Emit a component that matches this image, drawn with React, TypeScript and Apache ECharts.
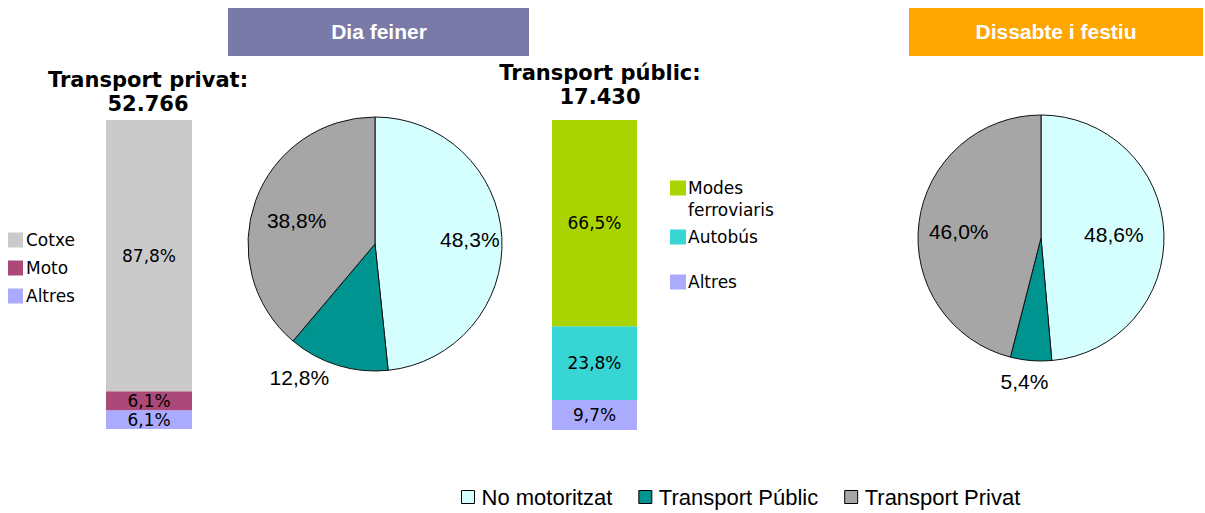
import React, { useEffect, useRef } from "react";
import * as echarts from "echarts";

const privatCategories = ["Cotxe", "Moto", "Altres"];
const privatValues = [87.8, 6.1, 6.1];
const privatColors = ["#cacaca", "#ab4a78", "#aaaaff"];
const privatTotal = "52.766";

const publicCategories = ["Modes ferroviaris", "Autobús", "Altres "];
const publicValues = [66.5, 23.8, 9.7];
const publicColors = ["#aad400", "#38d5d5", "#aaaaff"];
const publicTotal = "17.430";

const pieCategories = ["No motoritzat", "Transport Públic", "Transport Privat"];
const pieColors = ["#d5ffff", "#009490", "#a6a6a6"];
const feinerValues = [48.3, 12.8, 38.8];
const festiuValues = [48.6, 5.4, 46.0];

const fmt = (v: number) => v.toFixed(1).replace(".", ",") + "%";

const barFont = "DejaVu Sans";
const pieFont = "Liberation Sans";

function stackSeries(names: string[], values: number[], colors: string[], idx: number, stack: string) {
  const order = [2, 1, 0];
  return order.map((i) => ({
    type: "bar",
    name: names[i],
    stack,
    xAxisIndex: idx,
    yAxisIndex: idx,
    barWidth: "100%",
    data: [values[i]],
    itemStyle: { color: colors[i] },
    label: {
      show: true,
      position: "inside",
      formatter: (p: any) => fmt(p.value),
      fontFamily: barFont,
      fontSize: 17,
      color: "#000",
    },
  }));
}

function pieSeries(values: number[], center: number[], r: number, innerFrac: number, smallLen: number, shifts: number[][]) {
  const main = {
    type: "pie",
    center,
    radius: [0, r],
    startAngle: 90,
    clockwise: true,
    avoidLabelOverlap: false,
    label: { show: false },
    labelLine: { show: false },
    itemStyle: { borderColor: "#111", borderWidth: 1 },
    data: pieCategories.map((n, i) => ({ name: n, value: values[i], itemStyle: { color: pieColors[i] } })),
  };
  const labels = {
    type: "pie",
    center,
    radius: [r * innerFrac, r],
    startAngle: 90,
    clockwise: true,
    silent: true,
    avoidLabelOverlap: false,
    itemStyle: { color: "rgba(0,0,0,0)", borderWidth: 0 },
    label: {
      show: true,
      position: "inside",
      formatter: (p: any) => fmt(p.value),
      fontFamily: pieFont,
      fontSize: 21,
      color: "#000",
    },
    labelLine: { show: false },
    labelLayout: (p: any) => ({ dx: shifts[p.dataIndex][0], dy: shifts[p.dataIndex][1] }),
    data: pieCategories.map((n, i) => ({
      name: n,
      value: values[i],
      label: i === 1 ? { position: "outside" } : undefined,
      labelLine: i === 1 ? { show: false, length: smallLen, length2: 0 } : undefined,
    })),
  };
  return [main, labels];
}

export default function App() {
  const ref = useRef<HTMLDivElement>(null);
  useEffect(() => {
    if (!ref.current) return;
    const chart = echarts.init(ref.current, undefined, { renderer: "svg" });
    const legendFormatter = (name: string) =>
      name === "Modes ferroviaris" ? "\nModes\nferroviaris" : name.trim();
    const barLegendText = { fontFamily: barFont, fontSize: 17, color: "#000", lineHeight: 22, padding: [0, 0, 0, -3] };
    chart.setOption({
      animation: false,
      backgroundColor: "#fff",
      grid: [
        { left: 106, top: 120, width: 86, height: 309 },
        { left: 552, top: 120, width: 85, height: 310 },
      ],
      xAxis: [
        { type: "category", gridIndex: 0, data: ["privat"], show: false },
        { type: "category", gridIndex: 1, data: ["public"], show: false },
      ],
      yAxis: [
        { type: "value", gridIndex: 0, min: 0, max: 100, show: false },
        { type: "value", gridIndex: 1, min: 0, max: 100, show: false },
      ],
      legend: [
        {
          data: privatCategories,
          orient: "vertical",
          left: 8,
          top: 230,
          padding: 0,
          icon: "rect",
          itemWidth: 15,
          itemHeight: 15,
          itemGap: 8,
          textStyle: { fontFamily: barFont, fontSize: 17, color: "#000", lineHeight: 20, padding: [0, 0, 0, -2] },
        },
        {
          data: [publicCategories[0]],
          left: 670,
          top: 155,
          padding: 0,
          icon: "rect",
          itemWidth: 16,
          itemHeight: 15,
          formatter: legendFormatter,
          textStyle: barLegendText,
        },
        {
          data: [publicCategories[1]],
          left: 670,
          top: 226,
          padding: 0,
          icon: "rect",
          itemWidth: 16,
          itemHeight: 15,
          formatter: legendFormatter,
          textStyle: barLegendText,
        },
        {
          data: [publicCategories[2]],
          left: 670,
          top: 271,
          padding: 0,
          icon: "rect",
          itemWidth: 16,
          itemHeight: 15,
          formatter: legendFormatter,
          textStyle: barLegendText,
        },
        {
          data: pieCategories,
          left: 461,
          top: 486,
          padding: 0,
          icon: "rect",
          itemWidth: 13,
          itemHeight: 13,
          itemGap: 26,
          itemStyle: { borderColor: "#000", borderWidth: 1 },
          textStyle: { fontFamily: pieFont, fontSize: 22, color: "#000", padding: [0, 0, 0, 2] },
        },
      ],
      graphic: [
        { type: "rect", shape: { x: 228, y: 8, width: 301, height: 48 }, style: { fill: "#7a7aa8" } },
        {
          type: "text",
          x: 379,
          y: 31,
          style: { text: "Dia feiner", fill: "#fff", fontFamily: pieFont, fontWeight: "bold", fontSize: 21, align: "center", verticalAlign: "middle" },
        },
        { type: "rect", shape: { x: 909, y: 8, width: 294, height: 48 }, style: { fill: "#ffa600" } },
        {
          type: "text",
          x: 1056,
          y: 31,
          style: { text: "Dissabte i festiu", fill: "#fff", fontFamily: pieFont, fontWeight: "bold", fontSize: 21, align: "center", verticalAlign: "middle" },
        },
        {
          type: "text",
          x: 148,
          y: 68,
          style: { text: "Transport privat:\n" + privatTotal, fill: "#000", fontFamily: barFont, fontWeight: "bold", fontSize: 21, lineHeight: 24, align: "center", verticalAlign: "top" },
        },
        {
          type: "text",
          x: 600,
          y: 61,
          style: { text: "Transport públic:\n" + publicTotal, fill: "#000", fontFamily: barFont, fontWeight: "bold", fontSize: 21, lineHeight: 24, align: "center", verticalAlign: "top" },
        },
      ],
      series: [
        ...stackSeries(privatCategories, privatValues, privatColors, 0, "privat"),
        ...stackSeries(publicCategories, publicValues, publicColors, 1, "public"),
        ...pieSeries(feinerValues, [375, 244], 127, 0.4, 12, [[3, 0], [0, 1], [8, 8]]),
        ...pieSeries(festiuValues, [1041, 238], 123, 0.3, 20, [[-10, 0], [24, 1], [0, 4]]),
      ],
    });
    return () => chart.dispose();
  }, []);
  return <div ref={ref} style={{ position: "absolute", left: 0, top: 0, width: 1205, height: 513 }} />;
}
